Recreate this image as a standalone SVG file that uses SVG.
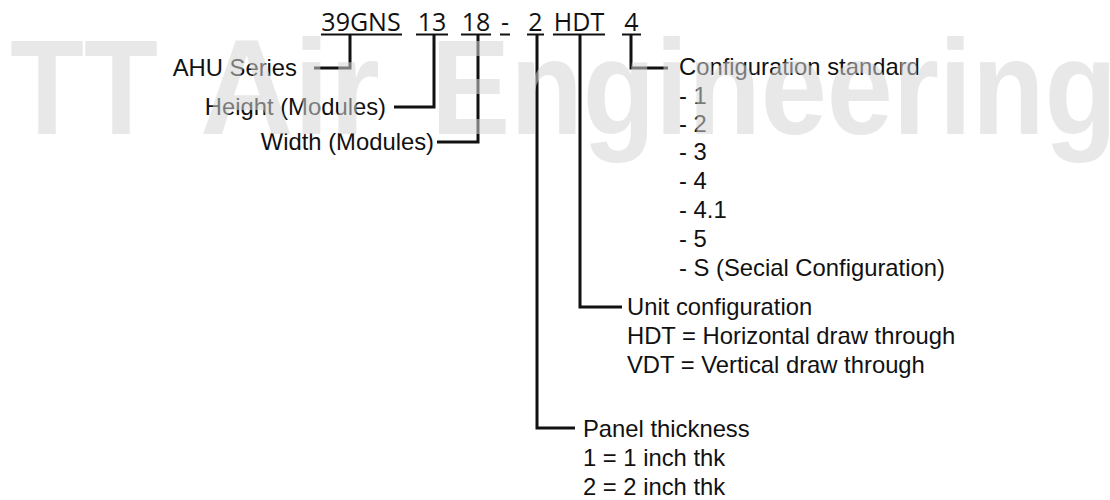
<svg xmlns="http://www.w3.org/2000/svg" width="1110" height="500" viewBox="0 0 1110 500">
<style>
.code{font-family:"Open Sans","Liberation Sans",sans-serif;font-size:25px;fill:#111;text-anchor:middle}
.lbl{font-family:"Liberation Sans",Arial,sans-serif;font-size:23.8px;fill:#111}
.end{text-anchor:end}
.ul{stroke:#111;stroke-width:2;fill:none}
.con{stroke:#111;stroke-width:3;fill:none;stroke-linejoin:miter}
.wm{font-family:"Liberation Sans",Arial,sans-serif;font-weight:bold;font-size:135px;fill:#d5d5d5;fill-opacity:0.54}
</style>
<rect width="1110" height="500" fill="#fff"/>
<g id="code">
  <g id="seg-39GNS"><text class="code" x="361" y="31">39GNS</text><line class="ul" x1="321" y1="34.5" x2="402" y2="34.5"/></g>
  <g id="seg-13"><text class="code" x="432" y="31">13</text><line class="ul" x1="416" y1="34.5" x2="448" y2="34.5"/></g>
  <g id="seg-18"><text class="code" x="476" y="31">18</text><line class="ul" x1="461" y1="34.5" x2="491" y2="34.5"/></g>
  <g id="seg-dash"><text class="code" x="505" y="31">-</text><line class="ul" x1="500" y1="34.5" x2="510" y2="34.5"/></g>
  <g id="seg-2"><text class="code" x="535.5" y="31">2</text><line class="ul" x1="527" y1="34.5" x2="544" y2="34.5"/></g>
  <g id="seg-HDT"><text class="code" x="579" y="31">HDT</text><line class="ul" x1="553" y1="34.5" x2="605" y2="34.5"/></g>
  <g id="seg-4"><text class="code" x="631.5" y="31">4</text><line class="ul" x1="622" y1="34.5" x2="641" y2="34.5"/></g>
</g>
<g id="connectors">
  <polyline class="con" points="350,35 350,68 314,68"/>
  <polyline class="con" points="434,35 434,107 394,107"/>
  <polyline class="con" points="478,35 478,142 437,142"/>
  <polyline class="con" points="537,35 537,428 575,428"/>
  <polyline class="con" points="580,35 580,307 622,307"/>
  <polyline class="con" points="631,35 631,68 668,68"/>
</g>
<g id="ahu-series"><text class="lbl end" x="297" y="76">AHU Series</text></g>
<g id="height"><text class="lbl end" x="386" y="115">Height (Modules)</text></g>
<g id="width"><text class="lbl end" x="434" y="150">Width (Modules)</text></g>
<g id="config-standard">
  <text class="lbl" x="679" y="75">Configuration standard</text>
  <text class="lbl" x="679" y="104">- 1</text>
  <text class="lbl" x="679" y="132">- 2</text>
  <text class="lbl" x="679" y="160">- 3</text>
  <text class="lbl" x="679" y="189">- 4</text>
  <text class="lbl" x="679" y="218">- 4.1</text>
  <text class="lbl" x="679" y="247">- 5</text>
  <text class="lbl" x="679" y="276">- S (Secial Configuration)</text>
</g>
<g id="unit-config">
  <text class="lbl" x="627" y="315">Unit configuration</text>
  <text class="lbl" x="627" y="344">HDT = Horizontal draw through</text>
  <text class="lbl" x="627" y="373">VDT = Vertical draw through</text>
</g>
<g id="panel-thickness">
  <text class="lbl" x="583" y="437">Panel thickness</text>
  <text class="lbl" x="583" y="466">1 = 1 inch thk</text>
  <text class="lbl" x="583" y="495">2 = 2 inch thk</text>
</g>
<g id="watermark">
  <text class="wm" x="10" y="134" textLength="148" lengthAdjust="spacingAndGlyphs">TT</text>
  <text class="wm" x="200" y="134" textLength="180" lengthAdjust="spacingAndGlyphs">Air</text>
  <text class="wm" x="431" y="134" textLength="686" lengthAdjust="spacingAndGlyphs">Engineering</text>
</g>
</svg>
